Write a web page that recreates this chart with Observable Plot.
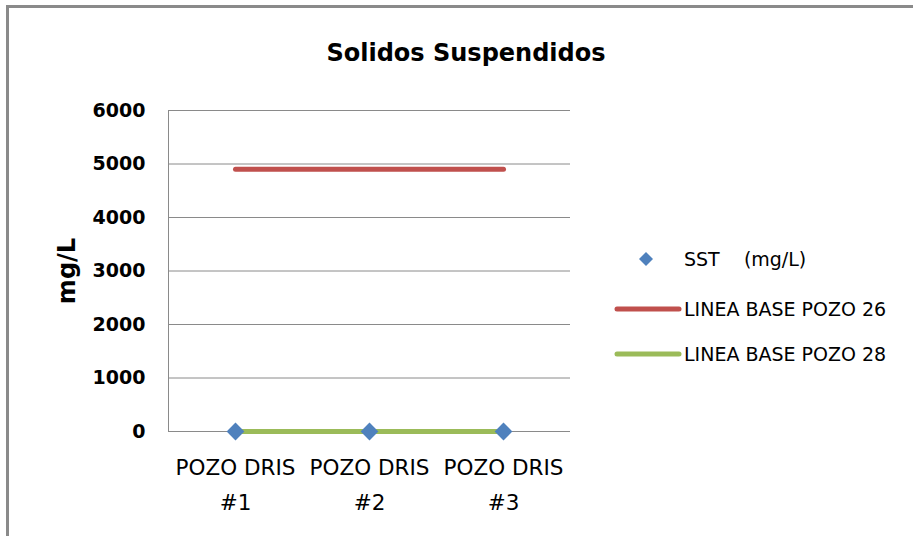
<!DOCTYPE html>
<html><head><meta charset="utf-8">
<script src="https://cdn.jsdelivr.net/npm/d3@7"></script>
<script src="https://cdn.jsdelivr.net/npm/@observablehq/plot@0.6"></script>
<style>
html,body{margin:0;padding:0;background:#fff;}
#wrap{position:relative;width:913px;height:536px;overflow:hidden;font-family:"DejaVu Sans",sans-serif;}
#border{position:absolute;left:6px;top:5px;width:1000px;height:1000px;border:3px solid #8a8a8a;box-sizing:border-box;}
#chart{position:absolute;left:0;top:0;}
#title{position:absolute;left:466px;top:37px;transform:translateX(-50%);font-weight:bold;font-size:24px;line-height:32px;white-space:nowrap;color:#000;}
.leg{position:absolute;display:flex;align-items:center;font-size:19px;color:#000;white-space:pre;}
.leg svg{display:block;}
</style>
</head><body>
<div id="wrap">
  <div id="border"></div>
  <div id="chart"></div>
  <div id="title">Solidos Suspendidos</div>
  <div id="legend"></div>
</div>
<script>
const categories = ["POZO DRIS\n#1", "POZO DRIS\n#2", "POZO DRIS\n#3"];
const sstValues = [0, 0, 0];
const base26 = [4900, 4900, 4900];
const base28 = [0, 0, 0];
const yTicks = [0, 1000, 2000, 3000, 4000, 5000, 6000];
const seriesNames = ["SST    (mg/L)", "LINEA BASE POZO 26", "LINEA BASE POZO 28"];
const colors = ["#4F81BD", "#C0504D", "#9BBB59"];

const sst = categories.map((c, i) => ({cat: c, v: sstValues[i]}));
const l26 = categories.map((c, i) => ({cat: c, v: base26[i]}));
const l28 = categories.map((c, i) => ({cat: c, v: base28[i]}));

const plot = Plot.plot({
  width: 913,
  height: 536,
  marginLeft: 168,
  marginRight: 343,
  marginTop: 110,
  marginBottom: 105,
  style: {fontFamily: "'DejaVu Sans', sans-serif", background: "transparent", overflow: "visible"},
  x: {type: "band", domain: categories, padding: 0, label: null},
  y: {domain: [0, 6000], label: null},
  marks: [
    Plot.gridY(yTicks, {stroke: "#8a8a8a", strokeOpacity: 1, strokeWidth: 1}),
    Plot.frame({anchor: "left", stroke: "#8a8a8a", strokeWidth: 1}),
    Plot.axisY(yTicks, {tickSize: 0, tickPadding: 23, fontSize: 19, fontWeight: "bold", fill: "#000", tickFormat: d => String(d), label: null}),
    Plot.axisX({tickSize: 0, tickPadding: 19, fontSize: 21.5, fill: "#000", lineHeight: 1.63, label: null}),
    Plot.text(["mg/L"], {frameAnchor: "left", dx: -101, rotate: -90, textAnchor: "middle", fontSize: 24, fontWeight: "bold", fill: "#000"}),
    Plot.line(l26, {x: "cat", y: "v", stroke: colors[1], strokeWidth: 5, strokeLinecap: "round"}),
    Plot.line(l28, {x: "cat", y: "v", stroke: colors[2], strokeWidth: 5, strokeLinecap: "round"}),
    Plot.dot(sst, {x: "cat", y: "v", symbol: "diamond2", r: 8, fill: colors[0], stroke: "none"})
  ]
});
document.getElementById("chart").appendChild(plot);

// Legend
const legend = document.getElementById("legend");
const legTops = [259, 309, 354];
seriesNames.forEach((name, i) => {
  const item = document.createElement("div");
  item.className = "leg";
  item.style.top = (legTops[i] - 12) + "px";
  item.style.height = "24px";
  let sw;
  if (i === 0) {
    item.style.left = "615px";
    sw = `<svg width="69" height="24"><path d="M31,5 L38,12 L31,19 L24,12 Z" fill="${colors[0]}"/></svg>`;
  } else {
    item.style.left = "612px";
    sw = `<svg width="72" height="24"><line x1="5" y1="12" x2="67" y2="12" stroke="${colors[i]}" stroke-width="5" stroke-linecap="round"/></svg>`;
  }
  item.innerHTML = sw + `<span>${name}</span>`;
  legend.appendChild(item);
});
</script>
</body></html>
